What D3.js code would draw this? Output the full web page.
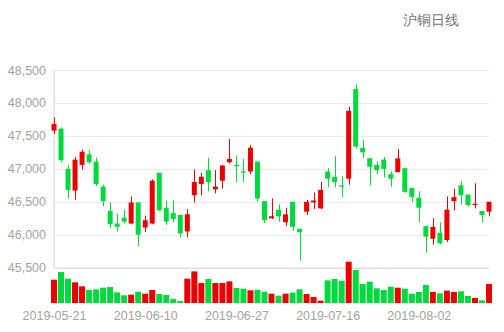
<!DOCTYPE html>
<html>
<head>
<meta charset="utf-8">
<script src="https://cdn.jsdelivr.net/npm/d3@7/dist/d3.min.js"></script>
<style>
  html, body { margin: 0; padding: 0; background: #fff; }
  svg { display: block; }
  text { font-family: "Liberation Sans", Arial, sans-serif; }
</style>
</head>
<body>
<svg id="chart" width="504" height="332"></svg>
<script>
// 沪铜 daily K-line data
const dates = [
  "2019-05-21","2019-05-22","2019-05-23","2019-05-24","2019-05-27","2019-05-28","2019-05-29","2019-05-30","2019-05-31",
  "2019-06-03","2019-06-04","2019-06-05","2019-06-06","2019-06-10","2019-06-11","2019-06-12","2019-06-13","2019-06-14",
  "2019-06-17","2019-06-18","2019-06-19","2019-06-20","2019-06-21","2019-06-24","2019-06-25","2019-06-26","2019-06-27","2019-06-28",
  "2019-07-01","2019-07-02","2019-07-03","2019-07-04","2019-07-05","2019-07-08","2019-07-09","2019-07-10","2019-07-11","2019-07-12",
  "2019-07-15","2019-07-16","2019-07-17","2019-07-18","2019-07-19","2019-07-22","2019-07-23","2019-07-24","2019-07-25","2019-07-26",
  "2019-07-29","2019-07-30","2019-07-31","2019-08-01","2019-08-02","2019-08-05","2019-08-06","2019-08-07","2019-08-08","2019-08-09",
  "2019-08-12","2019-08-13","2019-08-14","2019-08-15","2019-08-16"
];
const open = [
  47580,47610,47000,46670,47060,47220,47110,46730,46360,46170,46260,46170,46490,46110,46170,46940,46410,46330,46300,46050,
  46600,46770,46980,46690,46820,47100,47060,46960,46960,47110,46510,46250,46380,46190,46500,46090,46350,46490,46400,46960,
  46880,46750,46850,48210,47320,47160,47060,47140,46920,46950,47010,46710,46560,46130,45940,46030,45920,46510,46750,46610,
  46450,46360,46350
];
const close = [
  47680,47130,46680,47140,47260,47100,46770,46510,46160,46120,46200,46490,46000,46220,46820,46370,46200,46240,46020,46310,
  46800,46880,46800,46730,47050,47150,47040,46940,47320,46550,46220,46280,46280,46310,46120,46040,46500,46520,46680,46850,
  46800,46730,47880,47340,47250,47030,46980,47000,46850,47160,46650,46570,46410,45970,46120,45870,46380,46570,46600,46450,
  46470,46300,46500
];
const low = [
  47530,47100,46550,46530,46990,47080,46740,46430,46100,46050,46170,46160,45830,46040,46160,46360,46150,46190,45960,45960,
  46490,46600,46660,46630,46700,47080,46800,46800,46920,46500,46180,46240,46200,46130,46060,45610,46300,46390,46390,46720,
  46720,46570,46760,47310,47170,46750,46920,46870,46730,46950,46640,46500,46190,45730,45850,45860,45890,46370,46460,46430,
  46400,46190,46280
];
const high = [
  47780,47630,47060,47180,47290,47290,47170,46760,46490,46320,46380,46580,46490,46290,46840,46940,46520,46530,46300,46390,
  46990,46940,47170,46980,47060,47450,47200,47150,47360,47110,46510,46550,46460,46410,46500,46090,46530,46640,46800,47010,
  47190,46890,47940,48280,47440,47160,47110,47180,46960,47300,47010,46710,46660,46140,46250,46190,46580,46700,46810,46610,
  46780,46360,46500
];
const volume = [
  140000,186000,146000,124000,100000,78000,82000,92000,96000,64000,46000,50000,68000,56000,78000,54000,48000,24000,12000,146000,
  190000,120000,144000,120000,120000,130000,90000,86000,76000,80000,68000,56000,44000,56000,62000,82000,54000,36000,14000,136000,
  144000,134000,248000,198000,114000,128000,88000,78000,98000,92000,86000,56000,66000,108000,66000,58000,74000,66000,70000,42000,
  30000,16000,114000
];
const priceTicks = [45500, 46000, 46500, 47000, 47500, 48000, 48500];
const dateTicks = ["2019-05-21","2019-06-10","2019-06-27","2019-07-16","2019-08-02"];
const title = "沪铜日线";

const upColor = "#ec0000";
const downColor = "#00da3c";

const svg = d3.select("#chart");

const plot = { left: 54, right: 489, top: 70, bottom: 267.7 };
const volPlot = { top: 261.7, bottom: 303 };

const x = d3.scalePoint().domain(dates).range([plot.left, plot.right]);
const y = d3.scaleLinear().domain([45500, 48500]).range([plot.bottom, plot.top]);
const yVol = d3.scaleLinear().domain([0, d3.max(volume)]).range([volPlot.bottom, volPlot.top]);

const bars = dates.map((d, i) => ({
  date: d, open: open[i], close: close[i], low: low[i], high: high[i], volume: volume[i],
  up: close[i] >= open[i]
}));

// horizontal grid lines
const yAxis = d3.axisLeft(y).tickValues(priceTicks)
  .tickSize(-(plot.right - plot.left))
  .tickPadding(8)
  .tickFormat(d3.format(","));
const gy = svg.append("g").attr("transform", `translate(${plot.left},0)`).call(yAxis);
gy.select(".domain").remove();
gy.selectAll(".tick line").attr("stroke", "#e9e9e9").attr("stroke-width", 1);
gy.selectAll(".tick text")
  .attr("fill", "#a3a3a3")
  .attr("font-size", 12.5)
  .attr("x", -8);
// bottom gridline doubles as the category axis line
gy.selectAll(".tick").filter(d => d === 45500).select("line").attr("stroke", "#cfcfcf");

// vertical axis line
svg.append("line")
  .attr("x1", plot.left).attr("x2", plot.left)
  .attr("y1", plot.top).attr("y2", plot.bottom)
  .attr("stroke", "#cfcfcf");

// volume bars
svg.append("g").selectAll("rect").data(bars).join("rect")
  .attr("x", d => x(d.date) - 3)
  .attr("width", 6)
  .attr("y", d => yVol(d.volume))
  .attr("height", d => yVol(0) - yVol(d.volume))
  .attr("fill", d => d.up ? upColor : downColor);

// candles
const candles = svg.append("g").selectAll("g").data(bars).join("g");
candles.append("line")
  .attr("x1", d => Math.round(x(d.date)) + 0.5)
  .attr("x2", d => Math.round(x(d.date)) + 0.5)
  .attr("y1", d => y(d.high))
  .attr("y2", d => y(d.low))
  .attr("stroke", d => d.up ? upColor : downColor)
  .attr("stroke-width", 1);
candles.append("rect")
  .attr("x", d => x(d.date) - 2.5)
  .attr("width", 5)
  .attr("y", d => y(Math.max(d.open, d.close)))
  .attr("height", d => Math.max(1, Math.abs(y(d.open) - y(d.close))))
  .attr("fill", d => d.up ? upColor : downColor);

// date axis under the volume bars
const xAxis = d3.axisBottom(x).tickValues(dateTicks).tickSize(0).tickPadding(8);
const gx = svg.append("g").attr("transform", `translate(0,${volPlot.bottom})`).call(xAxis);
gx.select(".domain").remove();
gx.selectAll(".tick text").attr("fill", "#a3a3a3").attr("font-size", 12.5);

// title
svg.append("text")
  .attr("x", 459).attr("y", 20)
  .attr("text-anchor", "end")
  .attr("dominant-baseline", "central")
  .attr("font-family", "'Noto Sans CJK SC', sans-serif")
  .attr("font-size", 14)
  .attr("fill", "#777")
  .text(title);
</script>
</body>
</html>
